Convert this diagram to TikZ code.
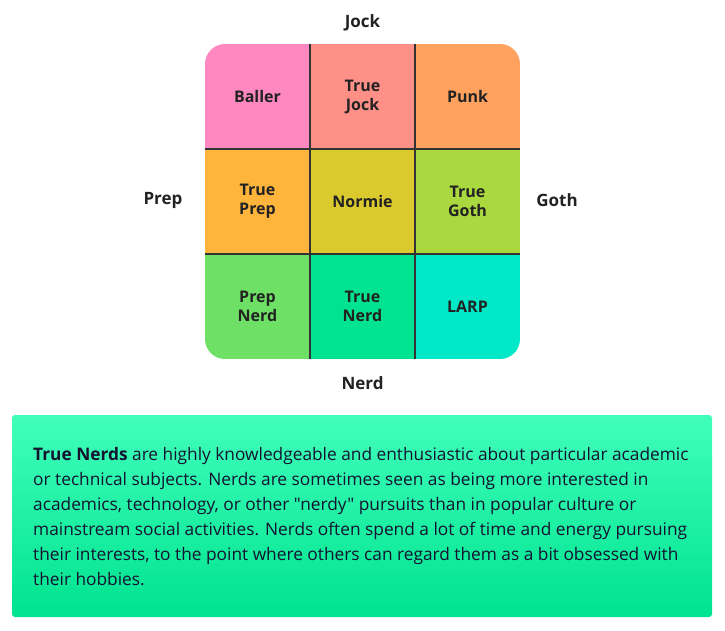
\documentclass[tikz,border=0pt]{standalone}
\usepackage{fontspec}
\setmainfont{Open Sans}[Ligatures=TeXOff]
\definecolor{baller}{HTML}{FF88C0}
\definecolor{truejock}{HTML}{FF9088}
\definecolor{punk}{HTML}{FFA260}
\definecolor{trueprep}{HTML}{FFB43C}
\definecolor{normie}{HTML}{DACA2E}
\definecolor{truegoth}{HTML}{A9D83F}
\definecolor{prepnerd}{HTML}{6EE066}
\definecolor{truenerd}{HTML}{00E390}
\definecolor{larp}{HTML}{00E8C8}
\definecolor{gridline}{HTML}{333333}
\definecolor{labeltext}{HTML}{222222}
\definecolor{bodytext}{HTML}{141430}
\definecolor{boxtop}{HTML}{40FFBB}
\definecolor{boxbottom}{HTML}{00E38F}
\tikzset{
  cell/.style={minimum size=105pt, inner sep=0pt, align=center, text=labeltext,
    font=\fontsize{16}{19}\selectfont\bfseries},
  axis/.style={text=labeltext, font=\fontsize{17}{20}\selectfont\bfseries},
  gridrule/.style={draw=gridline, line width=2pt},
}
\begin{document}
\begin{tikzpicture}[x=1pt,y=-1pt]
  \useasboundingbox (0,0) rectangle (725,630);
  % the nine cells
  \begin{scope}
    \clip[rounded corners=20pt] (205,44) rectangle (520,359);
    \node[cell, fill=baller] (baller) at (257.5,96.5) {Baller};
    \node[cell, fill=truejock] (truejock) at (362.5,96.5) {True\\Jock};
    \node[cell, fill=punk] (punk) at (467.5,96.5) {Punk};
    \node[cell, fill=trueprep] (trueprep) at (257.5,201.5) {True\\Prep};
    \node[cell, fill=normie] (normie) at (362.5,201.5) {Normie};
    \node[cell, fill=truegoth] (truegoth) at (467.5,201.5) {True\\Goth};
    \node[cell, fill=prepnerd] (prepnerd) at (257.5,306.5) {Prep\\Nerd};
    \node[cell, fill=truenerd] (truenerd) at (362.5,306.5) {True\\Nerd};
    \node[cell, fill=larp] (larp) at (467.5,306.5) {LARP};
  \end{scope}
  \draw[gridrule] (baller.north east) -- (prepnerd.south east);
  \draw[gridrule] (truejock.north east) -- (truenerd.south east);
  \draw[gridrule] (baller.south west) -- (punk.south east);
  \draw[gridrule] (trueprep.south west) -- (truegoth.south east);
  % axis labels
  \node[axis] (jock) at (362.5,23) {Jock};
  \node[axis] (prep) at (163,200) {Prep};
  \node[axis] (goth) at (557,200) {Goth};
  \node[axis] (nerd) at (362.5,383) {Nerd};
  % description
  \shade[top color=boxtop, bottom color=boxbottom, rounded corners=3pt]
    (12,415) rectangle (712,617);
  \node[anchor=north west, align=left, inner sep=0pt, text=bodytext,
    font=\fontsize{17.3}{25}\selectfont] (desc) at (33,447)
    {\textbf{True Nerds} are highly knowledgeable and enthusiastic about particular academic\\
     or technical subjects. Nerds are sometimes seen as being more interested in\\
     academics, technology, or other "nerdy" pursuits than in popular culture or\\
     mainstream social activities. Nerds often spend a lot of time and energy pursuing\\
     their interests, to the point where others can regard them as a bit obsessed with\\
     their hobbies.};
\end{tikzpicture}
\end{document}
